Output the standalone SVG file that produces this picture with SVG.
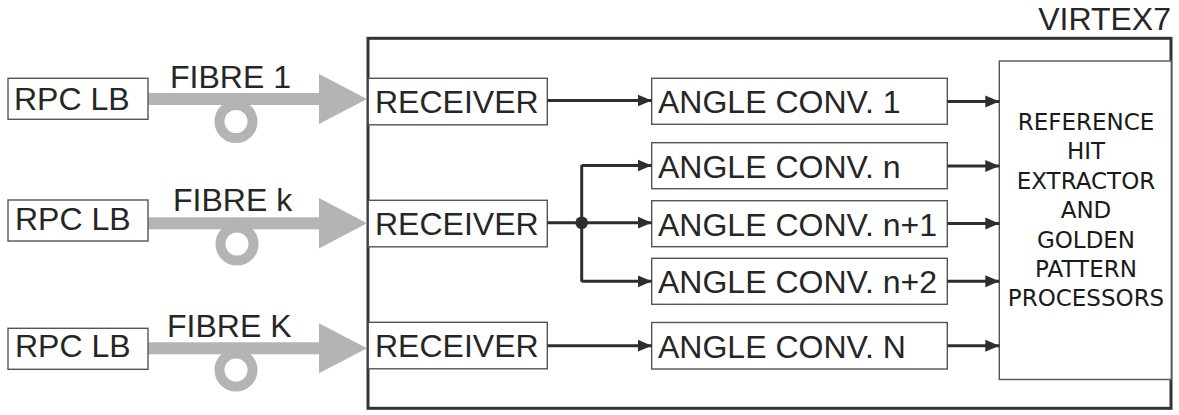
<svg xmlns="http://www.w3.org/2000/svg" width="1179" height="415" viewBox="0 0 1179 415">
<defs>
<style>
.box{fill:#fff;stroke:#555;stroke-width:1.4}
.t{font-family:"Liberation Sans",Arial,sans-serif;font-size:32px;fill:#262626}
.tr{font-family:"DejaVu Sans",sans-serif;font-size:23px;fill:#1a1a1a;text-anchor:middle}
.fib{fill:#b4b4b4}
.ring{fill:none;stroke:#b4b4b4;stroke-width:10}
.wire{fill:none;stroke:#2e2e2e;stroke-width:3}
.arr{fill:none;stroke:#2e2e2e;stroke-width:3;marker-end:url(#ah)}
</style>
<marker id="ah" markerUnits="userSpaceOnUse" markerWidth="15" markerHeight="13" refX="14" refY="6.5" orient="auto">
<path d="M0,0.5 L14,6.5 L0,12.5 Z" fill="#2e2e2e"/>
</marker>
</defs>

<g id="virtex7">
<rect x="368" y="38.3" width="803" height="370" fill="none" stroke="#333" stroke-width="3"/>
<text class="t" x="1171" y="29.5" text-anchor="end">VIRTEX7</text>
</g>

<g id="fibres">
<g id="fibre1">
<rect class="fib" x="147" y="93" width="174" height="12"/>
<polygon class="fib" points="319,74 367,99 319,124"/>
<circle class="ring" cx="236" cy="121.5" r="16.5"/>
<text class="t" x="170" y="88">FIBRE 1</text>
</g>
<g id="fibrek">
<rect class="fib" x="147" y="217.3" width="174" height="12"/>
<polygon class="fib" points="319,198 367,223.3 319,248.6"/>
<circle class="ring" cx="237" cy="244" r="16.5"/>
<text class="t" x="173" y="210.7">FIBRE k</text>
</g>
<g id="fibreK">
<rect class="fib" x="147" y="342.3" width="174" height="12"/>
<polygon class="fib" points="319,323.3 367,348.3 319,373.3"/>
<circle class="ring" cx="236" cy="370" r="16.5"/>
<text class="t" x="167" y="336.7">FIBRE K</text>
</g>
</g>

<g id="rpc1"><rect class="box" x="8" y="78.3" width="140" height="41"/><text class="t" x="14" y="110">RPC LB</text></g>
<g id="rpck"><rect class="box" x="8" y="200" width="140" height="41"/><text class="t" x="15" y="229.5">RPC LB</text></g>
<g id="rpcK"><rect class="box" x="8" y="328.3" width="140" height="41"/><text class="t" x="15" y="357">RPC LB</text></g>

<g id="rx1"><rect class="box" x="368.3" y="78.3" width="179" height="46.5"/><text class="t" x="375" y="112.7">RECEIVER</text></g>
<g id="rxk"><rect class="box" x="368.3" y="200.3" width="179" height="46.5"/><text class="t" x="375" y="235">RECEIVER</text></g>
<g id="rxK"><rect class="box" x="368.3" y="322.3" width="179" height="46.5"/><text class="t" x="375" y="356.7">RECEIVER</text></g>

<g id="ac1"><rect class="box" x="651.7" y="78.3" width="295.6" height="46"/><text class="t" x="658" y="113.3">ANGLE CONV. 1</text></g>
<g id="acn"><rect class="box" x="651.7" y="142.7" width="295.6" height="46"/><text class="t" x="658" y="177.8">ANGLE CONV. n</text></g>
<g id="acn1"><rect class="box" x="651.7" y="200.7" width="295.6" height="46"/><text class="t" x="658" y="235.7">ANGLE CONV. n+1</text></g>
<g id="acn2"><rect class="box" x="651.7" y="258.3" width="295.6" height="46"/><text class="t" x="658" y="293.3">ANGLE CONV. n+2</text></g>
<g id="acN"><rect class="box" x="651.7" y="322.5" width="295.6" height="46.5"/><text class="t" x="658" y="357.5">ANGLE CONV. N</text></g>

<g id="rhe">
<rect class="box" x="999.3" y="61" width="172" height="318.5"/>
<text class="tr" x="1086" y="130">REFERENCE</text>
<text class="tr" x="1086" y="159.4">HIT</text>
<text class="tr" x="1086" y="188.8">EXTRACTOR</text>
<text class="tr" x="1086" y="218.2">AND</text>
<text class="tr" x="1086" y="247.6">GOLDEN</text>
<text class="tr" x="1086" y="277">PATTERN</text>
<text class="tr" x="1086" y="306.4">PROCESSORS</text>
</g>

<g id="connectors">
<path class="arr" d="M547.3,100.5 H651.7"/>
<path class="wire" d="M547.3,222.7 H581.7 M581.7,165 V281.7"/>
<circle cx="581.7" cy="222.7" r="6.3" fill="#2e2e2e"/>
<path class="arr" d="M581.7,165.5 H651.7"/>
<path class="arr" d="M581.7,222.7 H651.7"/>
<path class="arr" d="M581.7,281.3 H651.7"/>
<path class="arr" d="M547.3,345.7 H651.7"/>
<path class="arr" d="M947.3,101.5 H999.3"/>
<path class="arr" d="M947.3,166 H999.3"/>
<path class="arr" d="M947.3,223.5 H999.3"/>
<path class="arr" d="M947.3,281.3 H999.3"/>
<path class="arr" d="M947.3,345.7 H999.3"/>
</g>
</svg>
